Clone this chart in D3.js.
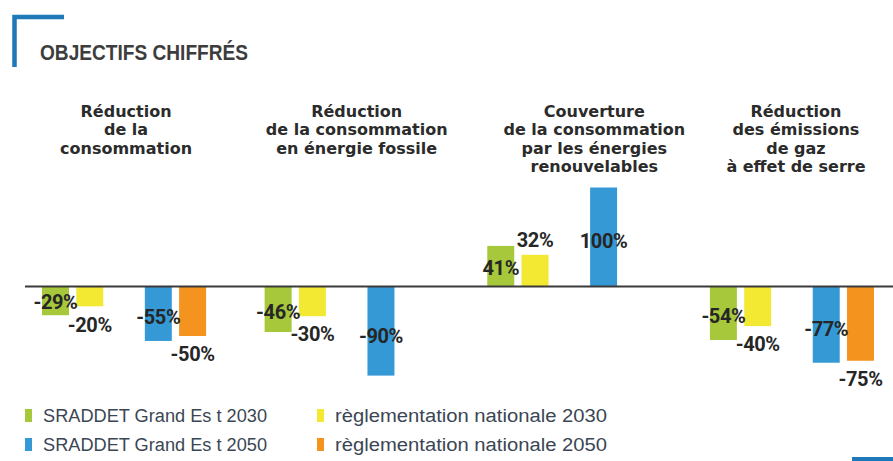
<!DOCTYPE html>
<html>
<head>
<meta charset="utf-8">
<script src="https://cdn.jsdelivr.net/npm/d3@7"></script>
<style>
  html, body { margin: 0; padding: 0; background: #ffffff; }
  svg { display: block; }
</style>
</head>
<body>
<svg id="chart" width="893" height="461"></svg>
<script>
// ---------- DATA ----------
const chartTitle = "OBJECTIFS CHIFFRÉS";
const categories = ["conso", "fossile", "renouvelables", "ges"];
const categoryTitles = [
  ["Réduction", "de la", "consommation"],
  ["Réduction", "de la consommation", "en énergie fossile"],
  ["Couverture", "de la consommation", "par les énergies", "renouvelables"],
  ["Réduction", "des émissions", "de gaz", "à effet de serre"]
];
const seriesNames = ["SRADDET Grand Es t 2030", "règlementation nationale 2030", "SRADDET Grand Es t 2050", "règlementation nationale 2050"];
const sraddet2030 = [-29, -46, 41, -54];
const national2030 = [-20, -30, 32, -40];
const sraddet2050 = [-55, -90, 100, -77];
const national2050 = [-50, null, null, -75];
const seriesColors = ["#a6c83a", "#f3e933", "#3499d5", "#f5931f"];

// ---------- LAYOUT ----------
const svg = d3.select("#chart");
const slots = ["s2030", "n2030", "gap", "s2050", "n2050"];
const seriesSlots = ["s2030", "n2030", "s2050", "n2050"];
const seriesValues = [sraddet2030, national2030, sraddet2050, national2050];
const kinds = ["sraddet", "national", "sraddet", "national"];

const x0 = d3.scaleBand().domain(categories).range([42, 874]).paddingInner(0.263).paddingOuter(0);
const x1 = d3.scaleBand().domain(slots).range([0, x0.bandwidth()]).paddingInner(0.213).paddingOuter(0);
const y = d3.scaleLinear().domain([-100, 100]).range([385.5, 187.5]);

// corner bracket
svg.append("path")
  .attr("d", "M14.5,67 L14.5,17 L64,17")
  .attr("fill", "none").attr("stroke", "#1f78b8").attr("stroke-width", 4.5);
svg.append("rect").attr("x", 852).attr("y", 457).attr("width", 41).attr("height", 4).attr("fill", "#1f78b8");

svg.append("text")
  .attr("x", 40).attr("y", 59.5)
  .attr("font-family", "'Liberation Sans Narrow', 'Liberation Sans', sans-serif")
  .attr("font-weight", 700).attr("font-size", 22)
  .attr("textLength", 208).attr("lengthAdjust", "spacingAndGlyphs")
  .attr("fill", "#3d3d3d")
  .text(chartTitle);

// category titles
const titleShift = [2, 10, 25, 4];
categories.forEach((c, i) => {
  const t = svg.append("text")
    .attr("text-anchor", "middle")
    .attr("font-family", "'DejaVu Sans', sans-serif")
    .attr("font-weight", 700).attr("font-size", 16)
    .attr("fill", "#2b2b2b");
  categoryTitles[i].forEach((line, j) => {
    t.append("tspan")
      .attr("x", x0(c) + x0.bandwidth() / 2 + titleShift[i])
      .attr("y", 116.5 + j * 18.5)
      .text(line);
  });
});

// bars
const barData = [];
seriesValues.forEach((vals, s) => {
  vals.forEach((v, i) => {
    if (v === null || v === undefined) return;
    barData.push({ cat: categories[i], slot: seriesSlots[s], v, color: seriesColors[s], kind: kinds[s] });
  });
});

svg.append("g").selectAll("rect").data(barData).join("rect")
  .attr("x", d => x0(d.cat) + x1(d.slot))
  .attr("width", x1.bandwidth())
  .attr("y", d => Math.min(y(d.v), y(0)))
  .attr("height", d => Math.abs(y(d.v) - y(0)))
  .attr("fill", d => d.color);

// zero line
svg.append("line")
  .attr("x1", 25).attr("x2", 893)
  .attr("y1", y(0)).attr("y2", y(0))
  .attr("stroke", "#3a3a3a").attr("stroke-width", 2);

// value labels
svg.append("g").selectAll("text").data(barData).join("text")
  .attr("x", d => x0(d.cat) + x1(d.slot) + x1.bandwidth() / 2)
  .attr("y", d => d.kind === "sraddet" ? y(d.v * (d.v < 0 ? 0.55 : 0.46)) : y(d.v) + (d.v < 0 ? 18 : -15))
  .attr("dy", "0.36em")
  .attr("text-anchor", "middle")
  .attr("font-family", "Roboto, sans-serif")
  .attr("font-weight", 700).attr("font-size", 20)
  .attr("letter-spacing", -0.4)
  .attr("fill", "#262626")
  .text(d => d.v + "%");

// legend
const legendPos = [[25, 0, 224], [317, 0, 272], [25, 1, 224], [317, 1, 272]];
seriesNames.forEach((name, i) => {
  const lx = legendPos[i][0], ly = 409 + legendPos[i][1] * 29;
  svg.append("rect").attr("x", lx).attr("y", ly).attr("width", 7).attr("height", 13).attr("fill", seriesColors[i]);
  svg.append("text")
    .attr("x", lx + 18).attr("y", ly + 12.8)
    .attr("font-family", "'Liberation Sans Narrow', 'Liberation Sans', sans-serif")
    .attr("font-size", 18)
    .attr("textLength", legendPos[i][2]).attr("lengthAdjust", "spacingAndGlyphs")
    .attr("fill", "#3b4654")
    .text(name);
});
</script>
</body>
</html>
